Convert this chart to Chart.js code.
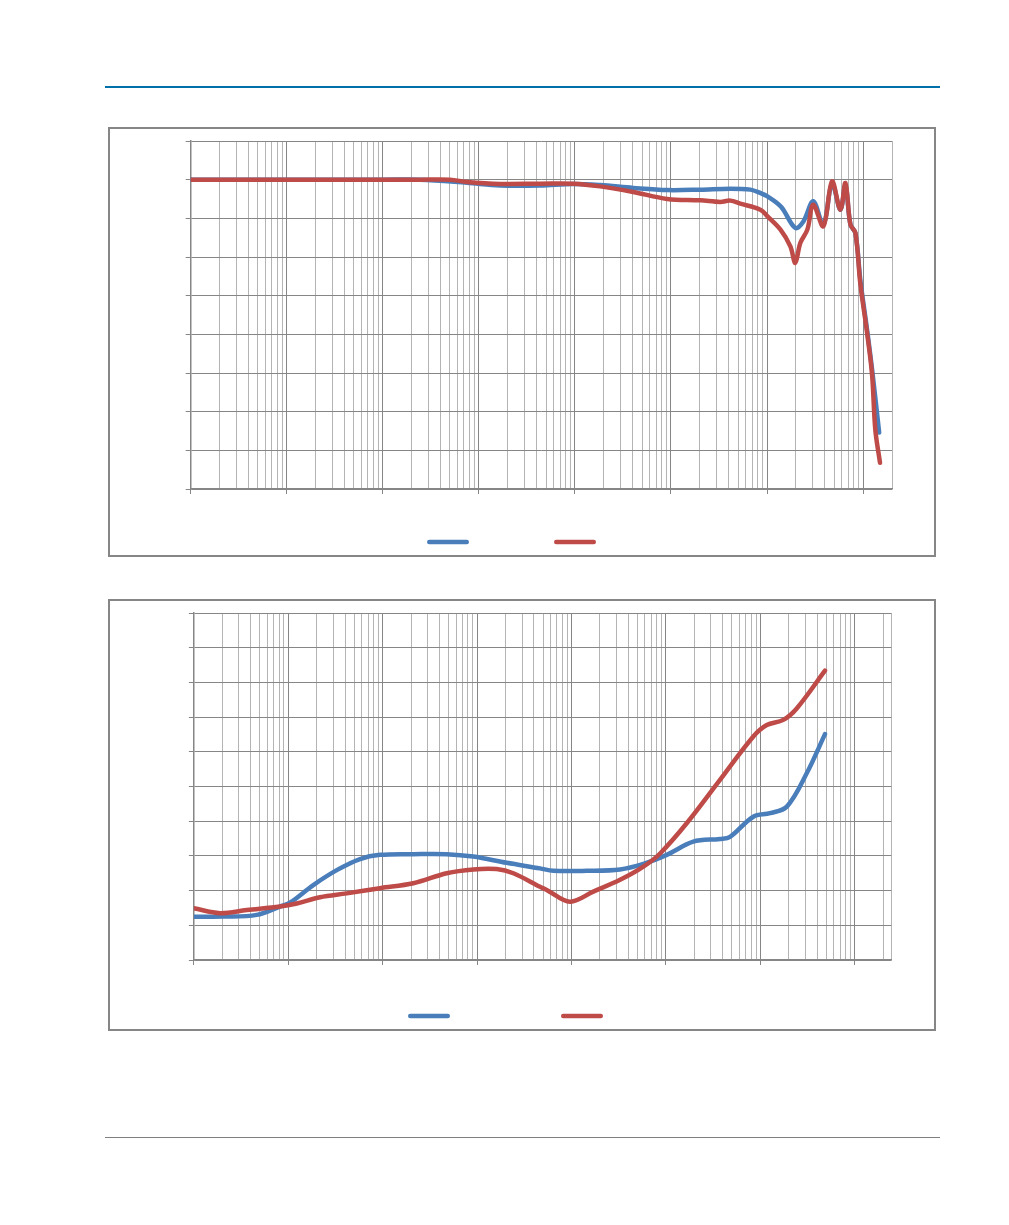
<!DOCTYPE html>
<html>
<head>
<meta charset="utf-8">
<script src="https://cdn.jsdelivr.net/npm/chart.js@4.4.1/dist/chart.umd.min.js"></script>
<style>
  body { margin: 0; background: #fff; width: 1009px; height: 1225px; position: relative; overflow: hidden; font-family: "Liberation Sans", Arial, sans-serif; }
  .rule-top { position: absolute; left: 105px; top: 86px; width: 835px; height: 2px; background: #0070a8; }
  .rule-bottom { position: absolute; left: 105px; top: 1137px; width: 835px; height: 1px; background: #7f7f7f; }
  .box { position: absolute; left: 108px; width: 828px; border: 2px solid #868686; box-sizing: border-box; }
  .box canvas { position: absolute; left: 0; top: 0; }
</style>
</head>
<body>
<div class="rule-top"></div>
<div class="box" style="top:127px;height:430px"><canvas id="gain-chart" width="824" height="426"></canvas></div>
<div class="box" style="top:599px;height:432px"><canvas id="z-chart" width="824" height="428"></canvas></div>
<div class="rule-bottom"></div>
<script>
// upper chart: response vs frequency
const gainFreqBlue = [1, 100, 245, 755, 1670, 4350, 9600, 18300, 40400, 91400, 202000, 415000, 670000, 851000, 1.01e6, 1.4e6, 1.97e6, 2.39e6, 3.03e6, 3.86e6, 4.75e6, 5.8e6, 6.55e6, 7.38e6, 8.32e6, 9.37e6, 1.10e7, 1.24e7, 1.47e7];
const gainBlue     = [0, 0, 0, -0.4, -0.74, -0.74, -0.55, -0.7, -1.07, -1.35, -1.29, -1.16, -1.29, -1.72, -2.16, -3.5, -6.24, -5.4, -2.8, -5.8, -0.5, -3.9, -0.7, -5.8, -6.9, -13.0, -19.4, -24.5, -32.7];
const gainFreqRed  = [1, 245, 500, 755, 1670, 4350, 9600, 18300, 40400, 91400, 202000, 326000, 415000, 527000, 851000, 1.01e6, 1.38e6, 1.75e6, 1.97e6, 2.22e6, 2.63e6, 3.03e6, 3.86e6, 4.75e6, 5.8e6, 6.55e6, 7.38e6, 8.32e6, 9.37e6, 1.10e7, 1.24e7, 1.34e7, 1.5e7];
const gainRed      = [0, 0, 0, -0.3, -0.55, -0.52, -0.52, -0.87, -1.59, -2.49, -2.67, -2.88, -2.71, -3.10, -3.88, -4.74, -6.46, -8.62, -10.76, -8.18, -6.46, -3.23, -6.03, -0.22, -3.88, -0.43, -5.81, -6.89, -13.5, -19.8, -25.2, -32.3, -36.6];

// lower chart
const zFreqBlue = [1, 2.05, 4.63, 8.17, 10.4, 18.4, 32.6, 57.5, 93.6, 211, 476, 912, 2060, 4640, 6410, 14500, 32700, 57700, 102000, 195000, 374000, 478000, 843000, 1.27e6, 1.91e6, 3.10e6, 4.84e6];
const zBlue     = [1.25, 1.25, 1.30, 1.54, 1.65, 2.16, 2.59, 2.91, 3.03, 3.05, 3.05, 2.98, 2.80, 2.64, 2.57, 2.57, 2.61, 2.77, 3.03, 3.41, 3.49, 3.55, 4.13, 4.23, 4.42, 5.38, 6.51];
const zFreqRed  = [1, 1.89, 3.63, 8.17, 12.3, 21.7, 41.6, 93.6, 211, 476, 912, 1610, 2420, 4640, 5460, 9640, 17000, 32700, 57700, 86700, 166000, 374000, 843000, 1.17e6, 1.75e6, 2.43e6, 4.84e6];
const zRed      = [1.49, 1.35, 1.44, 1.54, 1.63, 1.81, 1.92, 2.07, 2.21, 2.50, 2.61, 2.62, 2.50, 2.11, 2.02, 1.68, 1.97, 2.31, 2.69, 3.07, 3.94, 5.19, 6.44, 6.77, 6.92, 7.25, 8.34];

const BLUE = '#4a7ebb';
const RED = '#be4b48';
const MAJOR = '#868686';
const MINOR = '#b4b4b4';

const pts = (xs, ys) => xs.map((x, i) => ({ x, y: ys[i] }));

// 1..9 x 10^n grid on the log axis
function decadeTicks(scale) {
  const ticks = [];
  for (let e = 0; Math.pow(10, e) <= scale.max; e++) {
    for (let m = 1; m < 10; m++) {
      const v = m * Math.pow(10, e);
      if (v >= scale.min && v <= scale.max) ticks.push({ value: v, major: m === 1 });
    }
  }
  if (ticks[ticks.length - 1].value < scale.max) ticks.push({ value: scale.max, major: false });
  scale.ticks = ticks;
}

// legend without labels: just the two line swatches
const lineLegend = {
  id: 'lineLegend',
  afterDraw(chart, args, opts) {
    const { ctx, chartArea } = chart;
    const sets = chart.data.datasets;
    const y = chartArea.bottom + opts.offsetY;
    ctx.save();
    ctx.lineCap = 'round';
    sets.forEach((ds, i) => {
      const cx = opts.centerX + (i - (sets.length - 1) / 2) * opts.spacing;
      ctx.strokeStyle = ds.borderColor;
      ctx.lineWidth = ds.borderWidth;
      ctx.beginPath();
      ctx.moveTo(cx - opts.length / 2, y);
      ctx.lineTo(cx + opts.length / 2, y);
      ctx.stroke();
    });
    ctx.restore();
  }
};

function makeChart(id, cfg) {
  return new Chart(document.getElementById(id), {
    type: 'line',
    data: {
      datasets: [
        { data: cfg.blue, borderColor: BLUE, borderWidth: 4.5, order: 1 },
        { data: cfg.red, borderColor: RED, borderWidth: 4.5, order: 0 }
      ]
    },
    options: {
      responsive: false,
      animation: false,
      layout: { padding: { top: cfg.padTop, right: cfg.padRight, bottom: 0, left: 0 } },
      elements: {
        point: { radius: 0 },
        line: { tension: 0.35, borderCapStyle: 'round', borderJoinStyle: 'round', fill: false }
      },
      plugins: { legend: { display: false }, tooltip: { enabled: false }, lineLegend: cfg.legend },
      scales: {
        x: {
          type: 'logarithmic',
          min: 1,
          max: cfg.xMax,
          afterBuildTicks: decadeTicks,
          afterFit: s => { s.height = cfg.xHeight; },
          ticks: { display: false },
          border: { display: true, color: MAJOR, width: 1.5 },
          grid: {
            lineWidth: 1,
            tickLength: 5,
            color: c => (c.tick && c.tick.major) ? MAJOR : MINOR,
            tickColor: c => (c.tick && c.tick.major) ? MAJOR : 'rgba(0,0,0,0)'
          }
        },
        y: {
          min: cfg.yMin,
          max: cfg.yMax,
          ticks: { display: false, stepSize: cfg.yStep },
          afterFit: s => { s.width = cfg.yWidth; },
          border: { display: true, color: MAJOR, width: 1.5 },
          grid: { color: MAJOR, lineWidth: 1, tickLength: 5, tickColor: MAJOR }
        }
      }
    },
    plugins: [lineLegend]
  });
}

makeChart('gain-chart', {
  blue: pts(gainFreqBlue, gainBlue),
  red: pts(gainFreqRed, gainRed),
  xMax: 2e7, yMin: -40, yMax: 5, yStep: 5,
  yWidth: 80.7, xHeight: 66, padTop: 12, padRight: 42,
  legend: { offsetY: 53, centerX: 401.5, spacing: 127, length: 37.5 }
});

makeChart('z-chart', {
  blue: pts(zFreqBlue, zBlue),
  red: pts(zFreqRed, zRed),
  xMax: 2.44e7, yMin: 0, yMax: 10, yStep: 1,
  yWidth: 83.9, xHeight: 69, padTop: 12, padRight: 42.7,
  legend: { offsetY: 56, centerX: 395.5, spacing: 153, length: 37.5 }
});
</script>
</body>
</html>
